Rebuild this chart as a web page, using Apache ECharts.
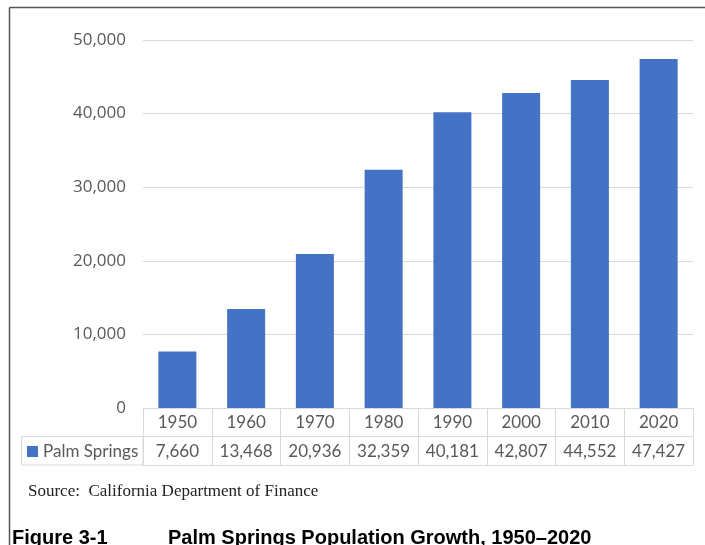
<!DOCTYPE html>
<html>
<head>
<meta charset="utf-8">
<script src="https://cdn.jsdelivr.net/npm/echarts@6/dist/echarts.min.js"></script>
<style>
  html, body { margin: 0; padding: 0; background: #fff; }
  #chart { width: 705px; height: 545px; }
</style>
</head>
<body>
<div id="chart"></div>
<script>
// data
const years = ["1950", "1960", "1970", "1980", "1990", "2000", "2010", "2020"];
const population = [7660, 13468, 20936, 32359, 40181, 42807, 44552, 47427];
const yTicks = [0, 10000, 20000, 30000, 40000, 50000];

const fmt = (v) => v.toLocaleString("en-US");
const labelFont = "Lato, 'Open Sans', sans-serif";
const gridColor = "#d9d9d9";

var myChart = echarts.init(document.getElementById("chart"));
var option = {
  animation: false,
  grid: { left: 143, right: 12, top: 40, bottom: 137 },
  legend: {
    data: ["Palm Springs"],
    left: 22,
    top: 438,
    icon: "rect",
    itemWidth: 11,
    itemHeight: 11,
    itemGap: 5,
    textStyle: { fontSize: 17, color: "#595959", fontFamily: labelFont },
  },
  xAxis: [
    {
      type: "category",
      data: years,
      position: "bottom",
      axisLine: { show: true, lineStyle: { color: gridColor } },
      axisTick: { show: true, length: 57, lineStyle: { color: gridColor } },
      axisLabel: { interval: 0, hideOverlap: false, fontSize: 17, color: "#595959", fontFamily: labelFont, margin: 6 },
    },
    {
      type: "category",
      data: years,
      position: "bottom",
      offset: 28.5,
      axisLine: { show: true, lineStyle: { color: gridColor } },
      axisTick: { show: false },
      axisLabel: {
        interval: 0,
        hideOverlap: false,
        fontSize: 17,
        color: "#595959",
        fontFamily: labelFont,
        margin: 7,
        formatter: (val, i) => fmt(population[i]),
      },
    },
    {
      type: "category",
      data: years,
      position: "bottom",
      offset: 57,
      axisLine: { show: true, lineStyle: { color: gridColor } },
      axisTick: { show: false },
      axisLabel: { show: false },
    },
  ],
  yAxis: {
    type: "value",
    min: yTicks[0],
    max: yTicks[yTicks.length - 1],
    interval: 10000,
    axisLine: { show: false },
    axisTick: { show: false },
    axisLabel: {
      fontSize: 17,
      color: "#595959",
      fontFamily: "'Liberation Sans Narrow', 'Open Sans', sans-serif",
      margin: 17,
      formatter: (v) => fmt(v),
    },
    splitLine: { lineStyle: { color: gridColor, width: 1 } },
  },
  series: [
    {
      name: "Palm Springs",
      type: "bar",
      data: population,
      barWidth: 38,
      itemStyle: { color: "#4472c4" },
    },
  ],
  graphic: [
    // outer frame
    { type: "line", shape: { x1: 9.5, y1: 7.5, x2: 705, y2: 7.5 }, style: { stroke: "#555", lineWidth: 1.5 } },
    { type: "line", shape: { x1: 9.5, y1: 7.5, x2: 9.5, y2: 545 }, style: { stroke: "#555", lineWidth: 1.5 } },
    // legend cell of the data table
    {
      type: "rect",
      shape: { x: 21.5, y: 436.5, width: 121.5, height: 28.5 },
      style: { fill: "none", stroke: gridColor, lineWidth: 1 },
    },
    {
      type: "text",
      left: 28,
      top: 483,
      style: {
        text: "Source:  California Department of Finance",
        font: "17px 'Liberation Serif', 'DejaVu Serif', serif",
        fill: "#222",
      },
    },
    {
      type: "text",
      left: 12,
      top: 528,
      style: { text: "Figure 3-1", font: "bold 20px 'Liberation Sans', Arial, sans-serif", fill: "#000" },
    },
    {
      type: "text",
      left: 168,
      top: 528,
      style: {
        text: "Palm Springs Population Growth, 1950–2020",
        font: "bold 20px 'Liberation Sans', Arial, sans-serif",
        fill: "#000",
      },
    },
  ],
};
myChart.setOption(option);
</script>
</body>
</html>
